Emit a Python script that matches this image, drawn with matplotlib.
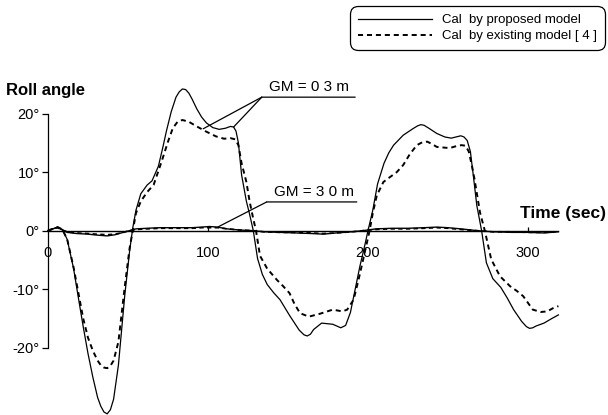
import matplotlib
matplotlib.use("Agg")
import matplotlib.pyplot as plt

plt.rcParams['font.family'] = ['Liberation Sans', 'DejaVu Sans']

# ---- data ----
t_prop_03 = [0, 3, 6, 9, 12, 16, 19, 22, 25, 28, 31, 33, 35, 37, 39, 41, 44, 48, 51, 53, 55,
             58, 62, 65, 69, 72, 74, 77, 80, 82, 84, 86, 88, 90, 93, 96, 99, 103, 107, 111,
             114, 116, 117.5, 119, 121, 124, 126, 128.3, 131, 134, 137, 141, 145, 151, 157,
             160, 162, 164, 166, 171, 178, 183, 186, 189, 192, 195, 198, 200, 203, 206, 210,
             213, 216, 222, 228, 231, 233, 235, 238, 243, 248, 252, 255, 258, 260, 262, 264,
             266, 268, 271, 274, 278, 283, 287, 291, 296, 299, 301, 303, 305, 310, 315, 319]
roll_prop_03 = [0, 0.3, 0.6, 0.2, -1.5, -6.5, -11.5, -16.4, -21, -25, -28.5, -30, -31, -31.3,
                -30.6, -28.8, -23, -11, -3.5, 0.5, 3.5, 6.3, 7.8, 8.5, 11, 14.5, 17, 20.3,
                22.8, 23.7, 24.2, 24.1, 23.5, 22.5, 20.8, 19.4, 18.4, 17.6, 17.3, 17.5, 17.8,
                17.7, 17.0, 15, 9.5, 5, 2.8, 0, -4.8, -7.5, -9.2, -10.6, -11.8, -14.5, -17,
                -17.8, -18, -17.7, -16.9, -15.8, -16, -16.6, -16.2, -14, -10, -6, -2.5, 0,
                3.5, 8, 11.5, 13.3, 14.6, 16.3, 17.4, 17.9, 18.1, 18.0, 17.5, 16.6, 16, 15.8,
                16.0, 16.2, 16.0, 15.4, 13.5, 9, 4.3, 0, -5.5, -8.2, -9.7, -11.5, -13.5,
                -15.5, -16.4, -16.7, -16.6, -16.3, -15.8, -15, -14.4]

t_exist_03 = [0, 3, 6, 9, 12, 16, 22, 25, 28, 31, 33, 35, 37, 39, 41, 44, 48, 51, 53, 55, 58,
              62, 66, 71, 75, 78, 81, 84, 88, 93, 99, 105, 110, 114, 117, 119, 121, 124, 126,
              128.3, 130, 132.5, 137, 143, 147, 151, 154, 157.5, 163, 170, 178, 184, 187, 191,
              194, 197, 201, 203, 205.5, 209.6, 214, 218, 222, 226, 230.5, 234, 237, 240, 243,
              251, 256, 258.5, 261, 263, 265, 266.5, 270, 273, 277, 282.5, 288.8, 293, 297,
              303, 308, 312, 316, 319]
roll_exist_03 = [0, 0.3, 0.6, 0.2, -1.5, -6.3, -15, -18.3, -20.5, -22.2, -23, -23.4, -23.5,
                 -23.1, -22.2, -19, -9.5, -3, 0, 3, 5, 6.6, 7.8, 11.8, 15.2, 17.5, 18.6, 18.9,
                 18.6, 17.8, 16.9, 16.1, 15.7, 15.8, 15.6, 14.6, 11.5, 8.3, 5, 2, 0, -4.3,
                 -6.5, -8.4, -9.5, -10.7, -12.5, -14.1, -14.7, -14.2, -13.5, -13.8, -13.5,
                 -11.8, -8.5, -4.9, 0, 3, 6, 8.3, 9.2, 10, 11.2, 13, 14.6, 15.1, 15.2, 14.8,
                 14.3, 14.1, 14.5, 14.6, 14.5, 13.5, 11, 8.9, 3.1, 0, -4.9, -7.8, -9.5,
                 -10.3, -11.2, -13.5, -13.9, -13.8, -13.2, -12.9]

t_gm30 = [0, 3, 6, 9, 12, 18, 25, 30, 37, 42, 47, 51, 55, 62, 70, 80, 90, 96, 101, 106, 112,
          120, 128, 135, 145, 155, 165, 172, 180, 190, 197, 205, 215, 225, 235, 243, 250,
          258, 268, 278, 290, 300, 310, 319]
roll_prop_30 = [0, 0.3, 0.55, 0.1, -0.3, -0.5, -0.6, -0.75, -0.9, -0.7, -0.3, 0, 0.3, 0.4,
                0.5, 0.5, 0.5, 0.6, 0.7, 0.6, 0.3, 0.1, 0, -0.2, -0.3, -0.4, -0.5, -0.6, -0.4,
                -0.2, 0, 0.3, 0.4, 0.4, 0.5, 0.6, 0.5, 0.3, 0, -0.2, -0.3, -0.3, -0.4, -0.2]
roll_exist_30 = [0, 0.3, 0.5, 0.1, -0.2, -0.4, -0.5, -0.6, -0.7, -0.6, -0.3, 0, 0.2, 0.3,
                 0.4, 0.4, 0.4, 0.5, 0.5, 0.5, 0.3, 0.1, 0, -0.2, -0.3, -0.3, -0.4, -0.5,
                 -0.4, -0.2, 0, 0.2, 0.3, 0.3, 0.4, 0.5, 0.4, 0.2, 0, -0.2, -0.2, -0.3, -0.3,
                 -0.2]

y_ticks = [-20, -10, 0, 10, 20]
y_tick_labels = ['-20°', '-10°', '0°', '10°', '20°']
x_ticks = [0, 100, 200, 300]
x_tick_labels = ['0', '100', '200', '300']

legend_labels = ['Cal  by proposed model', 'Cal  by existing model [ 4 ]']

# ---- figure ----
fig = plt.figure(figsize=(6.08, 4.15), dpi=100)
ax = fig.add_axes([0, 0, 1, 1])
ax.patch.set_visible(False)
ax.set_xlim(-30, 350)
ax.set_ylim(-31.5, 39.4)

solid_kw = dict(color='black', lw=0.9, solid_joinstyle='round')
dash_kw = dict(color='black', lw=1.4, dashes=(2.6, 2.0), dash_joinstyle='round')

l1, = ax.plot(t_prop_03, roll_prop_03, **solid_kw)
l2, = ax.plot(t_exist_03, roll_exist_03, **dash_kw)
ax.plot(t_gm30, roll_prop_30, color='black', lw=1.0, solid_joinstyle='round')
ax.plot(t_gm30, roll_exist_30, color='black', lw=1.2, dashes=(2.6, 2.0))

# axes spines
for s in ['top', 'right']:
    ax.spines[s].set_visible(False)
ax.spines['left'].set_position(('data', 0))
ax.spines['left'].set_bounds(-20, 20)
ax.spines['bottom'].set_position(('data', 0))
ax.spines['bottom'].set_bounds(0, 319)
ax.spines['left'].set_linewidth(0.9)
ax.spines['bottom'].set_linewidth(1.0)

ax.set_yticks(y_ticks)
ax.set_yticklabels(y_tick_labels)
ax.set_xticks(x_ticks)
ax.set_xticklabels(x_tick_labels)
ax.tick_params(axis='y', direction='out', length=4.5, width=0.9, pad=1.5,
               labelsize=10.5)
ax.tick_params(axis='x', direction='in', length=3, width=0.9, pad=11,
               labelsize=10.5)
ax.xaxis.get_major_ticks()[0].tick1line.set_visible(False)

# axis titles
ax.text(-26, 24.0, 'Roll angle', fontsize=12, fontweight='bold', ha='left', va='center')
ax.text(349, 2.9, 'Time (sec)', fontsize=12.5, fontweight='bold', ha='right', va='center')

# annotations GM = 0.3 m
line_kw = dict(arrowstyle='-', color='black', lw=0.9, shrinkA=0, shrinkB=0)
ax.annotate('', xy=(192, 22.8), xytext=(133.6, 22.8), arrowprops=line_kw)
ax.annotate('', xy=(97, 17.4), xytext=(133.6, 22.8), arrowprops=line_kw)
ax.annotate('', xy=(116, 17.7), xytext=(133.6, 22.8), arrowprops=line_kw)
ax.text(163, 23.3, 'GM = 0 3 m', fontsize=11, ha='center', va='bottom')

# annotations GM = 3.0 m
ax.annotate('', xy=(193, 4.9), xytext=(136.7, 4.9), arrowprops=line_kw)
ax.annotate('', xy=(106.4, 0.65), xytext=(136.7, 4.9), arrowprops=line_kw)
ax.text(166, 5.4, 'GM = 3 0 m', fontsize=11, ha='center', va='bottom')

# legend
leg = ax.legend([l1, l2], legend_labels, loc='upper right',
                bbox_to_anchor=(605 / 608, 1 - 6 / 415), bbox_transform=fig.transFigure,
                borderaxespad=0, fontsize=9.5, handlelength=5.6, handletextpad=0.8,
                frameon=True, fancybox=True, framealpha=1, edgecolor='black',
                borderpad=0.6, labelspacing=0.3)
leg.get_frame().set_linewidth(0.9)
leg.get_frame().set_boxstyle('round,pad=0,rounding_size=0.6')

fig.savefig('out.png', dpi=100)
